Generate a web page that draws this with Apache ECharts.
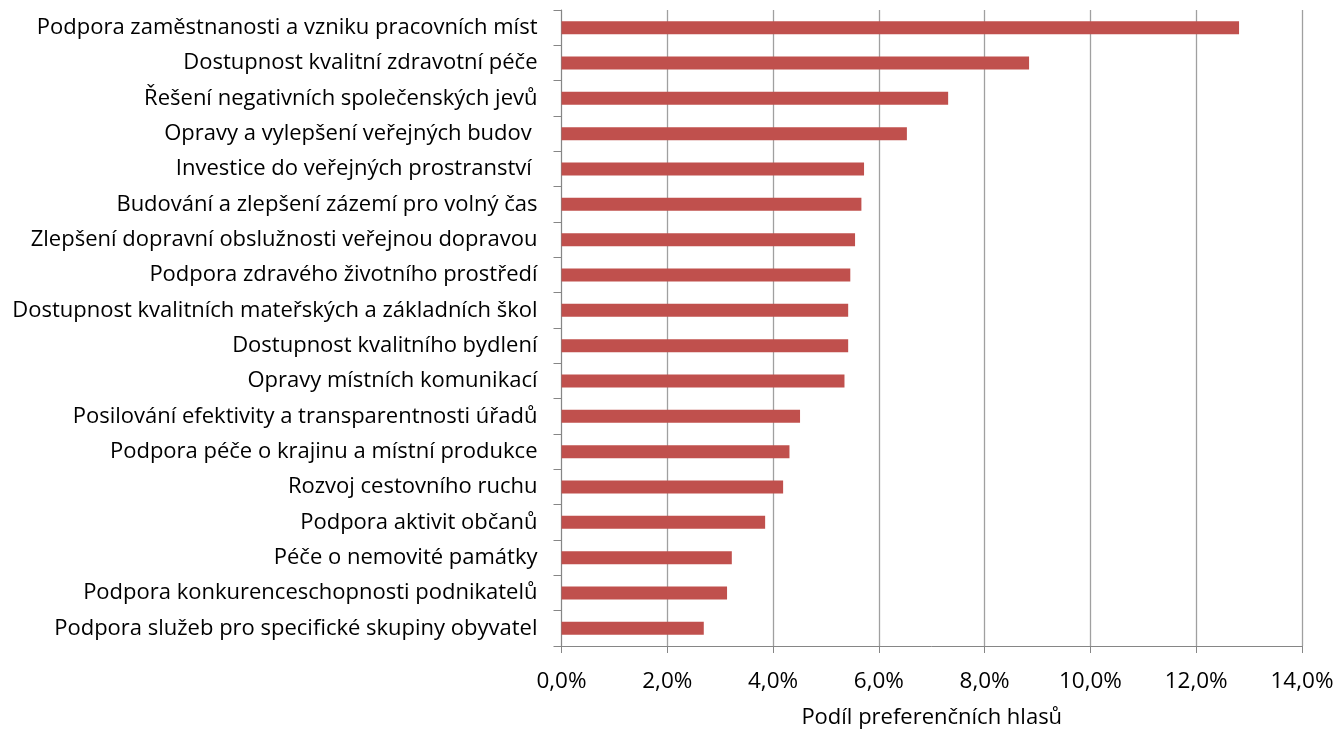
<!DOCTYPE html>
<html>
<head>
<meta charset="utf-8">
<script src="https://cdn.jsdelivr.net/npm/echarts@6/dist/echarts.min.js"></script>
<style>
  html, body { margin: 0; padding: 0; background: #fff; }
  #chart { width: 1338px; height: 734px; }
</style>
</head>
<body>
<div id="chart"></div>
<script>
var categories = [
    'Podpora zaměstnanosti a vzniku pracovních míst',
    'Dostupnost kvalitní zdravotní péče',
    'Řešení negativních společenských jevů',
    'Opravy a vylepšení veřejných budov ',
    'Investice do veřejných prostranství ',
    'Budování a zlepšení zázemí pro volný čas',
    'Zlepšení dopravní obslužnosti veřejnou dopravou',
    'Podpora zdravého životního prostředí',
    'Dostupnost kvalitních mateřských a základních škol',
    'Dostupnost kvalitního bydlení',
    'Opravy místních komunikací',
    'Posilování efektivity a transparentnosti úřadů',
    'Podpora péče o krajinu a místní produkce',
    'Rozvoj cestovního ruchu',
    'Podpora aktivit občanů',
    'Péče o nemovité památky',
    'Podpora konkurenceschopnosti podnikatelů',
    'Podpora služeb pro specifické skupiny obyvatel'
];
var shares = [12.81, 8.84, 7.31, 6.53, 5.72, 5.67, 5.55, 5.46, 5.42, 5.42, 5.35, 4.51, 4.31, 4.19, 3.85, 3.22, 3.13, 2.69];
var axisTitle = 'Podíl preferenčních hlasů';

var font = 'Open Sans';
var myChart = echarts.init(document.getElementById('chart'));

var option = {
    animation: false,
    backgroundColor: '#ffffff',
    grid: { left: 561.5, right: 36, top: 10, bottom: 85, containLabel: false },
    xAxis: {
        type: 'value',
        min: 0,
        max: 14,
        interval: 2,
        name: axisTitle,
        nameLocation: 'middle',
        nameGap: 61,
        nameTextStyle: { fontFamily: font, fontSize: 22, color: '#000' },
        axisLine: { show: true, lineStyle: { color: '#868686', width: 1 } },
        axisTick: { show: true, length: 7, lineStyle: { color: '#868686' } },
        axisLabel: {
            fontFamily: font, fontSize: 22.5, color: '#000', margin: 24,
            formatter: function (v) { return v.toFixed(1).replace('.', ',') + '%'; }
        },
        splitLine: { show: true, lineStyle: { color: '#a0a0a0', width: 1.3 } }
    },
    yAxis: {
        type: 'category',
        data: categories,
        inverse: true,
        axisLine: { show: true, lineStyle: { color: '#868686', width: 1 } },
        axisTick: { show: true, length: 8, lineStyle: { color: '#868686' } },
        axisLabel: { fontFamily: font, fontSize: 22, color: '#000', margin: 24 },
        splitLine: { show: false }
    },
    series: [{
        type: 'bar',
        data: shares,
        barWidth: 13,
        itemStyle: { color: '#c0504d' }
    }]
};

myChart.setOption(option);
</script>
</body>
</html>
